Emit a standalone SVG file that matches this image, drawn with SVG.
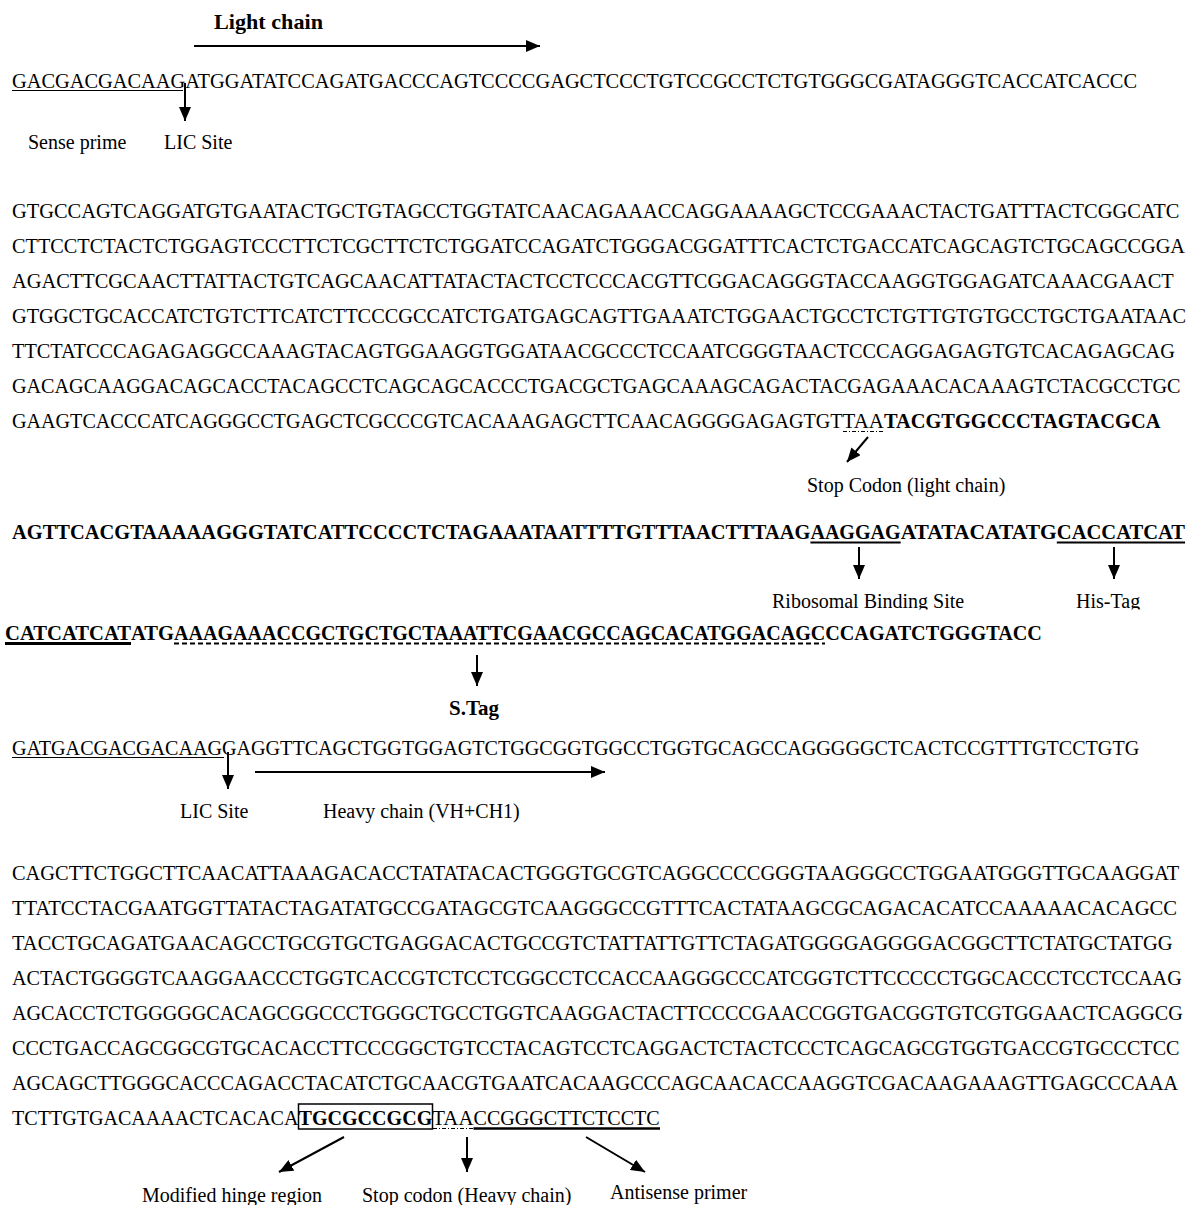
<svg xmlns="http://www.w3.org/2000/svg" width="1187" height="1205" viewBox="0 0 1187 1205">
<style>
text{font-family:"Liberation Serif","Times New Roman",serif;font-size:20px;fill:#000}
.s{font-size:20.07px}
.b{font-weight:bold}
.ln{stroke:#000;stroke-width:2;fill:none}
.ul{stroke:#000;stroke-width:1.2;fill:none}
.dd{stroke:#000;stroke-width:1;stroke-dasharray:4 2 1 2;fill:none}
</style>
<defs>
<marker id="ah" viewBox="0 0 14 12" refX="14" refY="6" markerWidth="14" markerHeight="12" markerUnits="userSpaceOnUse" orient="auto"><path d="M0,0 L14,6 L0,12 z" fill="#000"/></marker>
<clipPath id="clipLab"><rect x="760" y="585" width="427" height="24.5"/></clipPath>
</defs>
<rect width="1187" height="1205" fill="#fff"/>

<g id="title-light"><text x="214" y="29" class="b" style="font-size:22px" textLength="109" lengthAdjust="spacingAndGlyphs">Light chain</text></g>

<g id="seq-row1">
<text class="s" x="12" y="87.5" textLength="1125" lengthAdjust="spacingAndGlyphs">GACGACGACAAGATGGATATCCAGATGACCCAGTCCCCGAGCTCCCTGTCCGCCTCTGTGGGCGATAGGGTCACCATCACCC</text>
<line class="ul" x1="12" y1="90.5" x2="183" y2="90.5"/>
</g>
<g id="label-sense"><text x="28" y="148.5">Sense prime</text></g>
<g id="label-lic1"><text x="164" y="148.5">LIC Site</text></g>

<g id="light-block">
<text class="s" x="12" y="217.5" textLength="1167.3" lengthAdjust="spacingAndGlyphs">GTGCCAGTCAGGATGTGAATACTGCTGTAGCCTGGTATCAACAGAAACCAGGAAAAGCTCCGAAACTACTGATTTACTCGGCATC</text>
<text class="s" x="12" y="252.5" textLength="1173" lengthAdjust="spacingAndGlyphs">CTTCCTCTACTCTGGAGTCCCTTCTCGCTTCTCTGGATCCAGATCTGGGACGGATTTCACTCTGACCATCAGCAGTCTGCAGCCGGA</text>
<text class="s" x="12" y="287.5" textLength="1161.7" lengthAdjust="spacingAndGlyphs">AGACTTCGCAACTTATTACTGTCAGCAACATTATACTACTCCTCCCACGTTCGGACAGGGTACCAAGGTGGAGATCAAACGAACT</text>
<text class="s" x="12" y="322.5" textLength="1174" lengthAdjust="spacingAndGlyphs">GTGGCTGCACCATCTGTCTTCATCTTCCCGCCATCTGATGAGCAGTTGAAATCTGGAACTGCCTCTGTTGTGTGCCTGCTGAATAAC</text>
<text class="s" x="12" y="357.5" textLength="1162.8" lengthAdjust="spacingAndGlyphs">TTCTATCCCAGAGAGGCCAAAGTACAGTGGAAGGTGGATAACGCCCTCCAATCGGGTAACTCCCAGGAGAGTGTCACAGAGCAG</text>
<text class="s" x="12" y="392.5" textLength="1168.5" lengthAdjust="spacingAndGlyphs">GACAGCAAGGACAGCACCTACAGCCTCAGCAGCACCCTGACGCTGAGCAAAGCAGACTACGAGAAACACAAAGTCTACGCCTGC</text>
<text class="s" x="12" y="427.5" textLength="830.6" lengthAdjust="spacingAndGlyphs">GAAGTCACCCATCAGGGCCTGAGCTCGCCCGTCACAAAGAGCTTCAACAGGGGAGAGTGT</text>
<text class="s" x="842.6" y="427.5" textLength="41.3" lengthAdjust="spacingAndGlyphs">TAA</text>
<text class="s b" x="883.9" y="427.5" textLength="276.5" lengthAdjust="spacingAndGlyphs">TACGTGGCCCTAGTACGCA</text>
<line class="dd" x1="843" y1="431.5" x2="884" y2="431.5"/>
</g>
<g id="label-stop-light"><text x="807" y="492">Stop Codon (light chain)</text></g>

<g id="bold-row">
<text class="s b" x="12" y="538.5" textLength="798.4" lengthAdjust="spacingAndGlyphs">AGTTCACGTAAAAAGGGTATCATTCCCCTCTAGAAATAATTTTGTTTAACTTTAAG</text>
<text class="s b" x="810.4" y="538.5" textLength="90.3" lengthAdjust="spacingAndGlyphs">AAGGAG</text>
<text class="s b" x="900.7" y="538.5" textLength="156.1" lengthAdjust="spacingAndGlyphs">ATATACATATG</text>
<text class="s b" x="1056.8" y="538.5" textLength="128.2" lengthAdjust="spacingAndGlyphs">CACCATCAT</text>
<line class="ul" style="stroke-width:2" x1="810.4" y1="542.5" x2="900.7" y2="542.5"/>
<line class="ul" style="stroke-width:2" x1="1056.8" y1="542.5" x2="1185" y2="542.5"/>
</g>
<g id="label-rbs" clip-path="url(#clipLab)"><text x="772" y="607.5">Ribosomal Binding Site</text></g>
<g id="label-his" clip-path="url(#clipLab)"><text x="1076" y="607.5">His-Tag</text></g>

<g id="tag-row">
<text class="b" x="5" y="639.5" textLength="126" lengthAdjust="spacingAndGlyphs">CATCATCAT</text>
<text class="b" x="131" y="639.5" textLength="43.1" lengthAdjust="spacingAndGlyphs">ATG</text>
<text class="b" x="174.1" y="639.5" textLength="651.1" lengthAdjust="spacingAndGlyphs">AAAGAAACCGCTGCTGCTAAATTCGAACGCCAGCACATGGACAGC</text>
<text class="b" x="825.2" y="639.5" textLength="216.7" lengthAdjust="spacingAndGlyphs">CCAGATCTGGGTACC</text>
<line class="ul" style="stroke-width:3" x1="5" y1="643.5" x2="131" y2="643.5"/>
<line class="ul" style="stroke-width:2;stroke-dasharray:5 3" x1="174" y1="643.5" x2="825" y2="643.5"/>
</g>
<g id="label-stag"><text x="449" y="714.5" class="b" style="font-size:21px">S.Tag</text></g>

<g id="heavy-row1">
<text class="s" x="12" y="754.5" textLength="1127.2" lengthAdjust="spacingAndGlyphs">GATGACGACGACAAGGAGGTTCAGCTGGTGGAGTCTGGCGGTGGCCTGGTGCAGCCAGGGGGCTCACTCCGTTTGTCCTGTG</text>
<line class="ul" x1="12" y1="757.5" x2="224" y2="757.5"/>
</g>
<g id="label-lic2"><text x="180" y="817.5">LIC Site</text></g>
<g id="label-heavy"><text x="323" y="817.5">Heavy chain (VH+CH1)</text></g>

<g id="heavy-block">
<text class="s" x="12" y="879.5" textLength="1167.3" lengthAdjust="spacingAndGlyphs">CAGCTTCTGGCTTCAACATTAAAGACACCTATATACACTGGGTGCGTCAGGCCCCGGGTAAGGGCCTGGAATGGGTTGCAAGGAT</text>
<text class="s" x="12" y="914.5" textLength="1165.1" lengthAdjust="spacingAndGlyphs">TTATCCTACGAATGGTTATACTAGATATGCCGATAGCGTCAAGGGCCGTTTCACTATAAGCGCAGACACATCCAAAAACACAGCC</text>
<text class="s" x="12" y="949.5" textLength="1160.6" lengthAdjust="spacingAndGlyphs">TACCTGCAGATGAACAGCCTGCGTGCTGAGGACACTGCCGTCTATTATTGTTCTAGATGGGGAGGGGACGGCTTCTATGCTATGG</text>
<text class="s" x="12" y="984.5" textLength="1169.7" lengthAdjust="spacingAndGlyphs">ACTACTGGGGTCAAGGAACCCTGGTCACCGTCTCCTCGGCCTCCACCAAGGGCCCATCGGTCTTCCCCCTGGCACCCTCCTCCAAG</text>
<text class="s" x="12" y="1019.5" textLength="1170.7" lengthAdjust="spacingAndGlyphs">AGCACCTCTGGGGGCACAGCGGCCCTGGGCTGCCTGGTCAAGGACTACTTCCCCGAACCGGTGACGGTGTCGTGGAACTCAGGCG</text>
<text class="s" x="12" y="1054.5" textLength="1167.5" lengthAdjust="spacingAndGlyphs">CCCTGACCAGCGGCGTGCACACCTTCCCGGCTGTCCTACAGTCCTCAGGACTCTACTCCCTCAGCAGCGTGGTGACCGTGCCCTCC</text>
<text class="s" x="12" y="1089.5" textLength="1166.2" lengthAdjust="spacingAndGlyphs">AGCAGCTTGGGCACCCAGACCTACATCTGCAACGTGAATCACAAGCCCAGCAACACCAAGGTCGACAAGAAAGTTGAGCCCAAA</text>
<text class="s" x="12" y="1124.5" textLength="286.5" lengthAdjust="spacingAndGlyphs">TCTTGTGACAAAACTCACACA</text>
<text class="s b" x="298.5" y="1124.5" textLength="133.8" lengthAdjust="spacingAndGlyphs">TGCGCCGCG</text>
<text class="s" x="432.3" y="1124.5" textLength="41.2" lengthAdjust="spacingAndGlyphs">TAA</text>
<text class="s" x="473.5" y="1124.5" textLength="186.2" lengthAdjust="spacingAndGlyphs">CCGGGCTTCTCCTC</text>
<rect x="298.5" y="1104" width="134" height="25" fill="none" stroke="#000" stroke-width="1.5"/>
<line class="dd" x1="433" y1="1128.5" x2="473.5" y2="1128.5"/>
<line class="ul" style="stroke-width:2.5" x1="473.5" y1="1128.5" x2="660" y2="1128.5"/>
</g>
<g id="label-hinge"><text x="142" y="1201.5">Modified hinge region</text></g>
<g id="label-stop-heavy"><text x="362" y="1201.5">Stop codon (Heavy chain)</text></g>
<g id="label-antisense"><text x="610" y="1199">Antisense primer</text></g>

<g id="connectors">
<line class="ln" x1="194" y1="46" x2="540" y2="46" marker-end="url(#ah)"/>
<line class="ln" x1="185" y1="83" x2="185" y2="121" marker-end="url(#ah)"/>
<line class="ln" x1="868" y1="437" x2="847" y2="462" marker-end="url(#ah)"/>
<line class="ln" x1="859" y1="547" x2="859" y2="579" marker-end="url(#ah)"/>
<line class="ln" x1="1114" y1="547" x2="1114" y2="579" marker-end="url(#ah)"/>
<line class="ln" x1="477" y1="655" x2="477" y2="686" marker-end="url(#ah)"/>
<line class="ln" x1="228" y1="752" x2="228" y2="789" marker-end="url(#ah)"/>
<line class="ln" x1="255" y1="772" x2="605" y2="772" marker-end="url(#ah)"/>
<line class="ln" x1="344" y1="1137" x2="279" y2="1172" marker-end="url(#ah)"/>
<line class="ln" x1="467" y1="1137" x2="467" y2="1172" marker-end="url(#ah)"/>
<line class="ln" x1="586" y1="1137" x2="645" y2="1172" marker-end="url(#ah)"/>
</g>
</svg>
